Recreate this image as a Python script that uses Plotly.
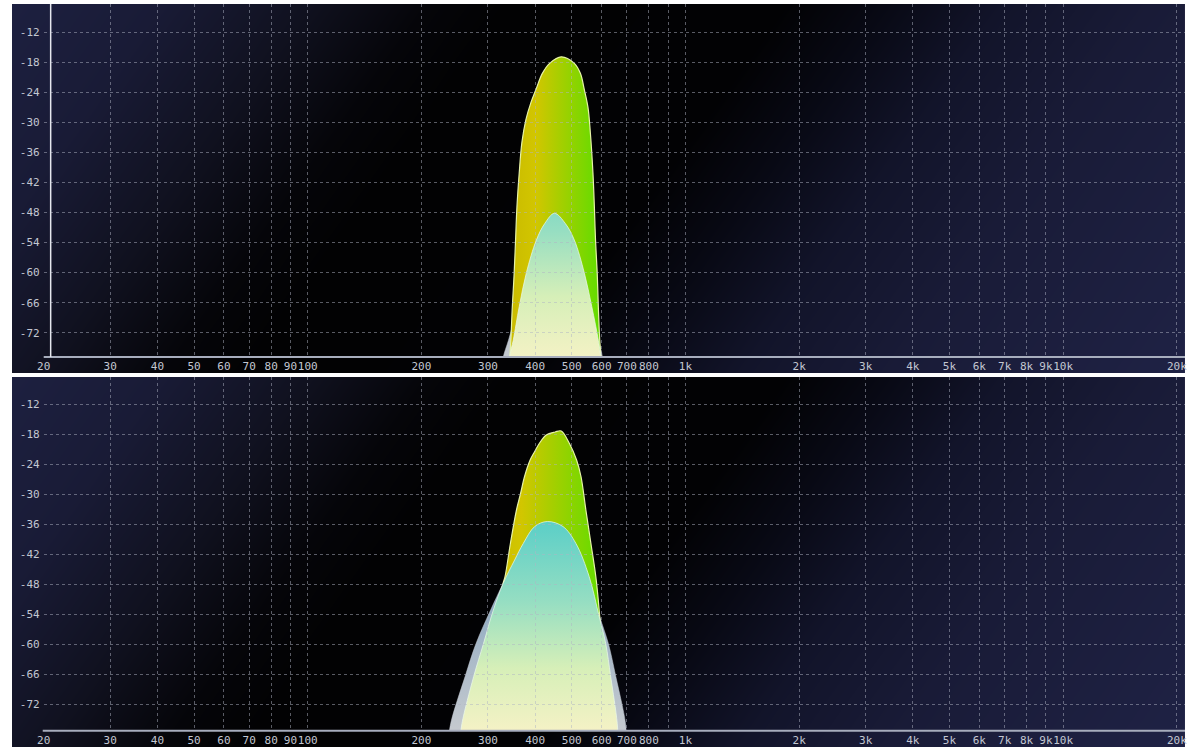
import numpy as np
import plotly.graph_objects as go

W, H = 1187, 747

# ---------------- data ----------------
x_tick_vals = [20, 30, 40, 50, 60, 70, 80, 90, 100, 200, 300, 400, 500, 600, 700, 800, 900,
               1000, 2000, 3000, 4000, 5000, 6000, 7000, 8000, 9000, 10000, 20000]
x_tick_text = ["20", "30", "40", "50", "60", "70", "80", "90", "100", "200", "300", "400", "500",
               "600", "700", "800", "", "1k", "2k", "3k", "4k", "5k", "6k", "7k", "8k", "9k", "10k", "20k"]
y_tick_vals = [-12, -18, -24, -30, -36, -42, -48, -54, -60, -66, -72]
y_tick_text = ["-12", "-18", "-24", "-30", "-36", "-42", "-48", "-54", "-60", "-66", "-72"]

# top panel
top_yellow_f = [338, 343, 348, 352, 355, 358, 363, 369, 378, 390, 403, 418, 437, 469, 508, 527, 540,
                552, 560, 569, 574, 578, 584, 588, 593, 597, 600]
top_yellow_db = [-80, -76.5, -66.9, -60.1, -53.5, -46.9, -40.1, -34.0, -29.5, -26.0, -23.2, -20.2, -18.2,
                 -16.9, -18.2, -20.2, -23.5, -27.0, -32.0, -40.1, -46.9, -53.5, -60.1, -66.9,
                 -73.5, -76.5, -80]
top_pale_f = [340, 343, 350, 363, 379, 403, 424, 450, 481, 508, 540, 565, 588, 597, 600]
top_pale_db = [-80, -76.5, -73.5, -66.8, -60.1, -53.5, -50.2, -48.15, -50.2, -53.5, -60.1, -66.8,
               -73.5, -77, -80]
top_gray_f = [326, 329, 340, 356, 379, 403, 424, 450, 481, 508, 540, 565, 590, 603, 606]
top_gray_db = [-80, -77, -73.5, -68, -60.1, -53.5, -50.2, -48.15, -50.2, -53.5, -60.1, -66.8,
               -73.5, -77, -80]

# bottom panel
bot_yellow_f = [296, 306, 318, 329, 333, 344, 357, 366, 375, 388, 399, 411, 428, 452, 469,
                493, 515, 529, 545, 562, 579, 591, 600, 606, 610]
bot_yellow_db = [-80, -65, -55, -47.9, -46.5, -39.9, -33.2, -29.9, -26.5, -23.2, -21.5, -19.8,
                 -18.2, -17.6, -17.4, -19.9, -23.2, -26.5, -33.2, -39.9, -46.5, -53.2,
                 -60, -70, -80]
bot_pale_f = [252, 256, 275, 292, 310, 329, 353, 372, 399, 431, 474, 513, 556, 591, 615, 634, 660, 664]
bot_pale_db = [-80, -75.9, -66.5, -59.9, -53.2, -47.9, -43.2, -39.9, -36.5, -35.5, -36.5, -39.9,
               -46.5, -54.5, -59.9, -66.5, -75.9, -80]
bot_gray_f = [235, 239, 261, 279, 305, 329, 353, 372, 399, 431, 474, 513, 556, 593, 625, 654, 694, 698]
bot_gray_db = [-80, -75.9, -66.5, -59.9, -53.2, -47.9, -43.2, -39.9, -36.5, -35.5, -36.5, -39.9,
               -46.5, -54.5, -59.9, -66.5, -75.9, -80]

# ---------------- styles ----------------
FONT = "DejaVu Sans Mono"
LABEL_COL = "#c3c7d2"
GRID_COL = "rgba(175,180,195,0.5)"
YELLOW_SCALE = [[0, "#c9ba00"], [0.3, "#d2c600"], [0.6, "#9fd000"], [1, "#5edd00"]]
PALE_SCALE = [[0, "#f6f2c6"], [0.3, "#d6efb8"], [0.6, "#96dec2"], [1, "#55cdc8"]]
GRAY_SCALE = [[0, "#c6cacf"], [0.5, "#a9b9c8"], [1, "#7ca2bd"]]

BG_STOPS = [(0, "#1d2040"), (150, "#191b36"), (300, "#10111f"), (420, "#050509"),
            (500, "#020203"), (780, "#020204"), (880, "#080914"), (1000, "#12142a"),
            (1150, "#191b37"), (1450, "#1f2245")]

def px_x(p):
    return p / W

def px_y(p):
    return 1 - p / H

fig = go.Figure()

# ---------- background heatmaps (subplots 1 and 2) ----------
umax = BG_STOPS[-1][0]
bg_scale = [[s / umax, c] for s, c in BG_STOPS]
for idx, (top_px, bot_px) in enumerate([(4, 373), (377, 747)], start=1):
    xs = np.linspace(0, W - 5, 60)
    ys = np.linspace(0, bot_px - top_px, 20)
    XX, YY = np.meshgrid(xs, ys)
    U = XX + 0.72 * YY
    sfx = "" if idx == 1 else str(idx)
    fig.add_trace(go.Heatmap(x=xs, y=ys, z=U, colorscale=bg_scale, zmin=0, zmax=umax,
                             zsmooth="best", showscale=False, hoverinfo="skip",
                             xaxis="x" + sfx, yaxis="y" + sfx))
    fig.layout["xaxis" + sfx] = dict(domain=[px_x(5), 1], range=[0, W - 5], visible=False,
                                    fixedrange=True, anchor="y" + sfx)
    fig.layout["yaxis" + sfx] = dict(domain=[px_y(bot_px), px_y(top_px)],
                                    range=[bot_px - top_px, 0], visible=False,
                                    fixedrange=True, anchor="x" + sfx)

# ---------- data subplots (3: top, 4: bottom) ----------
XLOG = [np.log10(20), np.log10(20) + (W - 37) / 380.6]
panels = [
    dict(n=3, g=6, dom=[px_y(357), px_y(4)], rng=[-76.85, -6.35],
         gray=(top_gray_f, top_gray_db), yel=(top_yellow_f, top_yellow_db),
         pale=(top_pale_f, top_pale_db)),
    dict(n=4, g=5, dom=[px_y(730.7), px_y(377)], rng=[-77.34, -6.6],
         gray=(bot_gray_f, bot_gray_db), yel=(bot_yellow_f, bot_yellow_db),
         pale=(bot_pale_f, bot_pale_db)),
]

for p in panels:
    n = str(p["n"])
    ax = dict(xaxis="x" + n, yaxis="y" + n)
    fig.add_trace(go.Scatter(x=p["gray"][0], y=p["gray"][1], mode="lines", fill="toself",
                             line=dict(color="rgba(200,205,215,0.5)", width=1, shape="spline"),
                             fillgradient=dict(type="vertical", colorscale=GRAY_SCALE,
                                               start=-78, stop=-46),
                             hoverinfo="skip", **ax))
    fig.add_trace(go.Scatter(x=p["yel"][0], y=p["yel"][1], mode="lines", fill="toself",
                             line=dict(color="#e6f2a6", width=1.2, shape="spline"),
                             fillgradient=dict(type="horizontal", colorscale=YELLOW_SCALE),
                             hoverinfo="skip", **ax))
    fig.add_trace(go.Scatter(x=p["pale"][0], y=p["pale"][1], mode="lines", fill="toself",
                             line=dict(color="rgba(235,250,235,0.7)", width=1, shape="spline"),
                             fillgradient=dict(type="vertical", colorscale=PALE_SCALE,
                                               start=-78, stop=-34),
                             hoverinfo="skip", **ax))
    fig.layout["xaxis" + n] = dict(type="log", domain=[px_x(37), 1], range=XLOG, visible=False,
                                  fixedrange=True, anchor="y" + n)
    fig.layout["yaxis" + n] = dict(domain=p["dom"], range=p["rng"], visible=False,
                                  fixedrange=True, anchor="x" + n)

# ---------- grid / label subplots drawn on top (5: bottom, 6: top) ----------
for p in panels:
    g = str(p["g"])
    fig.add_trace(go.Scatter(x=[None], y=[None], mode="lines", hoverinfo="skip",
                             xaxis="x" + g, yaxis="y" + g))
    fig.layout["xaxis" + g] = dict(type="log", domain=[px_x(37), 1], range=XLOG,
                                  tickvals=x_tick_vals, ticktext=x_tick_text, tickangle=0,
                                  showgrid=True, gridcolor=GRID_COL, gridwidth=1, griddash="3px,3px",
                                  zeroline=False, showline=False, ticks="",
                                  tickfont=dict(family=FONT, size=11, color=LABEL_COL),
                                  ticklabelstandoff=1, ticklabeloverflow="allow",
                                  fixedrange=True, anchor="y" + g)
    fig.layout["yaxis" + g] = dict(domain=p["dom"], range=p["rng"],
                                  tickvals=y_tick_vals, ticktext=y_tick_text,
                                  showgrid=True, gridcolor=GRID_COL, gridwidth=1, griddash="3px,3px",
                                  zeroline=False, showline=False, ticks="",
                                  tickfont=dict(family=FONT, size=11, color=LABEL_COL),
                                  ticklabelstandoff=3,
                                  fixedrange=True, anchor="x" + g)

# ---------- axis lines ----------
shapes = [
    dict(type="line", xref="paper", yref="paper", x0=px_x(37), x1=1, y0=px_y(357), y1=px_y(357),
         line=dict(color="#a7adbd", width=2)),
    dict(type="line", xref="paper", yref="paper", x0=px_x(44), x1=px_x(44), y0=px_y(357), y1=px_y(4),
         line=dict(color="#e6e8ef", width=1.5)),
    dict(type="line", xref="paper", yref="paper", x0=px_x(36), x1=1, y0=px_y(730.7), y1=px_y(730.7),
         line=dict(color="#a7adbd", width=2)),
]

fig.update_layout(
    width=W, height=H, margin=dict(l=0, r=0, t=0, b=0),
    paper_bgcolor="#ffffff", plot_bgcolor="rgba(0,0,0,0)",
    showlegend=False, hovermode=False, shapes=shapes,
)

fig.write_html("out.html", config=dict(displayModeBar=False))
